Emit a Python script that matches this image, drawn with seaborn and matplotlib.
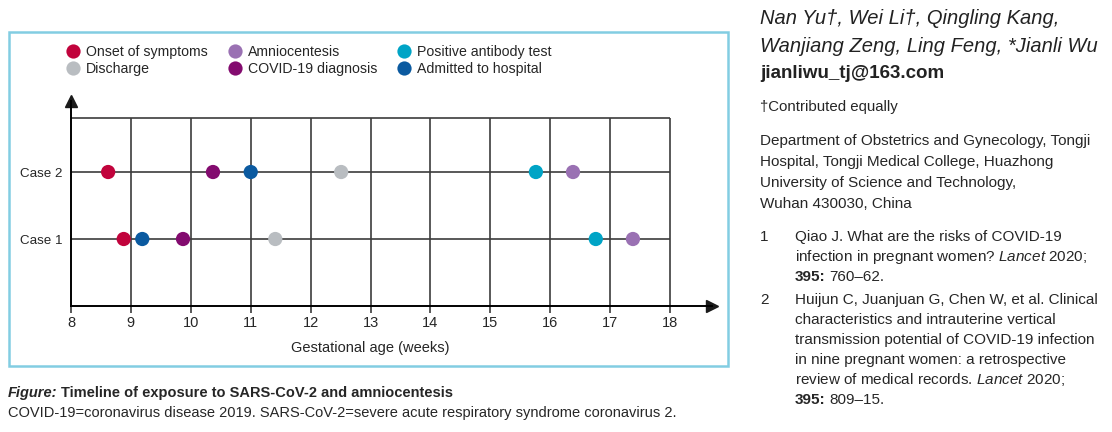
import seaborn as sns
import pandas as pd
import matplotlib.pyplot as plt
from matplotlib.patches import Rectangle

# events in legend order (column-wise fill, 3 columns)
events = ["Onset of symptoms", "Discharge", "Amniocentesis",
          "COVID-19 diagnosis", "Positive antibody test", "Admitted to hospital"]
colors = ["#c1033c", "#b9bdc1", "#9a71b3", "#830b6f", "#00a4c6", "#0b5aa0"]
case1_weeks = [8.88, 11.41, 17.38, 9.87, 16.76, 9.19]
case2_weeks = [8.62, 12.51, 16.38, 10.37, 15.76, 11.00]
cases = ["Case 1", "Case 2"]
week_ticks = list(range(8, 19))

W, H = 1112, 432


def px(x, y):
    """Pixel position (top-left origin) to figure fraction."""
    return x / W, 1 - y / H


def build_table():
    rows = []
    for case_y, weeks in [(1, case1_weeks), (2, case2_weeks)]:
        for ev, wk in zip(events, weeks):
            rows.append({"event": ev, "week": wk, "case": case_y})
    return pd.DataFrame(rows)


def main():
    sns.set_theme(style="white")
    plt.rcParams['font.family'] = ['Liberation Sans', 'DejaVu Sans']
    plt.rcParams['mathtext.fontset'] = 'custom'
    plt.rcParams['mathtext.rm'] = 'Liberation Sans'
    plt.rcParams['mathtext.it'] = 'Liberation Sans:italic'
    plt.rcParams['mathtext.bf'] = 'Liberation Sans:bold'
    line_col = "#3c3c3c"

    fig = plt.figure(figsize=(W / 100, H / 100), dpi=100)
    ax = fig.add_axes([71 / W, 1 - 306 / H, 641 / W, 205 / H])

    df = build_table()
    top = 2.81

    # grid
    ax.vlines(week_ticks[1:], 0, top, color=line_col, lw=1.2, zorder=1)
    ax.hlines([1, 2, top], 8, 18, color=line_col, lw=1.2, zorder=1)

    sns.scatterplot(data=df, x="week", y="case", hue="event", hue_order=events,
                    palette=colors, s=105, linewidth=0, ax=ax, zorder=3)

    ax.set_xlim(8, 18.7)
    ax.set_ylim(0, 3.06)
    for side in ["top", "right"]:
        ax.spines[side].set_visible(False)
    for side in ["left", "bottom"]:
        ax.spines[side].set_color("black")
        ax.spines[side].set_linewidth(1.4)
    ax.plot(1, 0, ">k", ms=8, transform=ax.get_yaxis_transform(), clip_on=False)
    ax.plot(8, 1, "^k", ms=8, transform=ax.get_xaxis_transform(), clip_on=False)

    ax.set_xticks(week_ticks)
    ax.set_xticklabels([str(t) for t in week_ticks])
    ax.tick_params(axis="x", direction="out", length=5, width=1.2, color=line_col,
                   labelsize=10.5, pad=2, bottom=True)
    ax.set_yticks([1, 2])
    ax.set_yticklabels(cases)
    ax.tick_params(axis="y", length=0, labelsize=9.6, pad=6)
    ax.set_xlabel("Gestational age (weeks)", fontsize=10.5)
    ax.xaxis.set_label_coords(5 / 10.7, -0.17)
    ax.set_ylabel("")

    sns.move_legend(ax, loc="upper left", bbox_to_anchor=px(67, 45),
                    bbox_transform=fig.transFigure, ncol=3, frameon=False, title=None,
                    fontsize=10.2, columnspacing=1.45, handlelength=0.9, handletextpad=0.45,
                    labelspacing=0.22, borderaxespad=0, borderpad=0)

    # frame around the figure panel
    fig.patches.append(Rectangle(px(9, 366), 719 / W, 334 / H, transform=fig.transFigure,
                                 fill=False, edgecolor="#82cde2", lw=1.8))

    # caption
    fig.text(*px(8, 393), "Figure:", fontsize=10.5, fontweight="bold", style="italic", va="center")
    fig.text(*px(61, 393), "Timeline of exposure to SARS-CoV-2 and amniocentesis",
             fontsize=10.5, fontweight="bold", va="center")
    fig.text(*px(8, 413), "COVID-19=coronavirus disease 2019. SARS-CoV-2=severe acute "
             "respiratory syndrome coronavirus 2.", fontsize=10.5, va="center")

    # side column
    fig.text(*px(760, 19), "Nan Yu\u2020, Wei Li\u2020, Qingling Kang,", fontsize=14.5,
             style="italic", va="center", color="#222222")
    fig.text(*px(760, 47), "Wanjiang Zeng, Ling Feng, *Jianli Wu", fontsize=14.5,
             style="italic", va="center", color="#222222")
    fig.text(*px(760, 74), "jianliwu_tj@163.com", fontsize=13.5, fontweight="bold",
             va="center", color="#222222")
    fig.text(*px(760, 107), "\u2020Contributed equally", fontsize=10.8, va="center")
    dept = ["Department of Obstetrics and Gynecology, Tongji",
            "Hospital, Tongji Medical College, Huazhong",
            "University of Science and Technology,",
            "Wuhan 430030, China"]
    for i, line in enumerate(dept):
        fig.text(*px(760, 141 + 21 * i), line, fontsize=11, va="center")

    refs = [("1", 237, ["Qiao J. What are the risks of COVID-19",
                        "infection in pregnant women? $\\it{Lancet}$ 2020;"], "760\u201362."),
            ("2", 300, ["Huijun C, Juanjuan G, Chen W, et al. Clinical",
                        "characteristics and intrauterine vertical",
                        "transmission potential of COVID-19 infection",
                        "in nine pregnant women: a retrospective",
                        "review of medical records. $\\it{Lancet}$ 2020;"], "809\u201315.")]
    for num, y0, lines, pages in refs:
        fig.text(*px(760, y0), num, fontsize=11, va="center")
        for i, line in enumerate(lines):
            fig.text(*px(795, y0 + 20 * i), line, fontsize=11, va="center")
        y_last = y0 + 20 * len(lines)
        fig.text(*px(795, y_last), "395:", fontsize=11, fontweight="bold", va="center")
        fig.text(*px(829, y_last), pages, fontsize=11, va="center")

    plt.savefig("out.png", dpi=100)


if __name__ == '__main__':
    main()
